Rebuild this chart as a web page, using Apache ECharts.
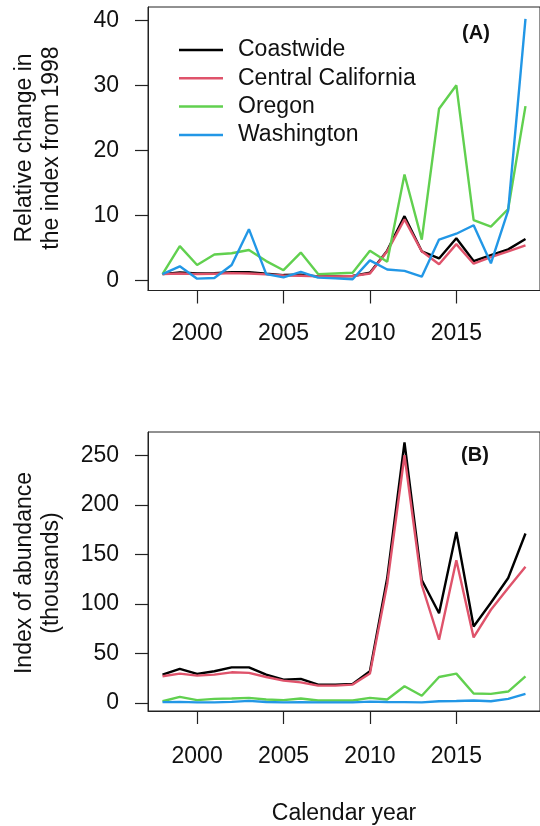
<!DOCTYPE html>
<html>
<head>
<meta charset="utf-8">
<script src="https://cdn.jsdelivr.net/npm/echarts@6/dist/echarts.min.js"></script>
<style>
  html, body { margin: 0; padding: 0; background: #fff; }
  #chart { width: 540px; height: 826px; }
</style>
</head>
<body>
<div id="chart"></div>
<script>
// Survey years
const years = [1998, 1999, 2000, 2001, 2002, 2003, 2004, 2005, 2006, 2007, 2008,
               2009, 2010, 2011, 2012, 2013, 2014, 2015, 2016, 2017, 2018, 2019];

const regionNames = ['Coastwide', 'Central California', 'Oregon', 'Washington'];
const regionColors = ['#000000', '#DF536B', '#61D04F', '#2297E6'];

// (A) Relative change in the index from 1998
const relCoastwide = [1.0, 1.25, 1.1, 1.15, 1.3, 1.3, 1.05, 0.85, 0.9, 0.65, 0.65,
                      0.7, 1.2, 4.6, 9.9, 4.5, 3.4, 6.5, 3.0, 3.9, 4.8, 6.4];
const relCentralCA = [1.0, 1.1, 1.0, 1.05, 1.15, 1.1, 0.95, 0.8, 0.75, 0.65, 0.65,
                      0.7, 1.1, 4.5, 9.4, 4.5, 2.5, 5.6, 2.6, 3.6, 4.5, 5.4];
const relOregon = [1.0, 5.3, 2.4, 4.0, 4.2, 4.7, 3.0, 1.6, 4.3, 1.0, 1.1,
                   1.2, 4.6, 2.9, 16.3, 6.3, 26.4, 30.0, 9.3, 8.3, 11.0, 26.8];
const relWashington = [1.0, 2.2, 0.3, 0.4, 2.4, 7.9, 1.0, 0.5, 1.35, 0.45, 0.35,
                       0.2, 3.1, 1.7, 1.5, 0.6, 6.3, 7.2, 8.5, 2.65, 10.8, 40.2];

// (B) Index of abundance (thousands)
const absCoastwide = [28.5, 34.2, 29.2, 31.9, 35.8, 35.8, 28.5, 23.4, 24.1, 18.4, 18.4,
                      19.1, 31.9, 126, 263, 124, 90.5, 172.6, 77, 101, 126, 171];
const absCentralCA = [26.8, 29.5, 27.5, 28.5, 30.8, 30.2, 26.1, 22.4, 20.7, 17.4, 17.4,
                      18.4, 29.5, 120, 250, 119, 63.7, 144, 66, 94, 116, 137.5];
const absOregon = [1.6, 6.0, 2.7, 4.0, 4.4, 5.0, 3.4, 2.7, 4.4, 2.3, 2.3,
                   2.3, 5.0, 3.4, 16.8, 7.2, 26.1, 29.5, 9.4, 9.0, 11.4, 26.8];
const absWashington = [0.7, 1.0, 0.5, 0.5, 1.0, 2.0, 0.8, 0.5, 0.7, 0.4, 0.4,
                       0.4, 1.2, 0.8, 0.7, 0.5, 1.6, 1.9, 2.3, 1.6, 4.0, 9.0];

// Tick labels
const yearTicks = [2000, 2005, 2010, 2015];
const relTicks = [0, 10, 20, 30, 40];
const absTicks = [0, 50, 100, 150, 200, 250];

const FONT = "'Liberation Sans', Arial, Helvetica, sans-serif";
const FS = 23;

const relSeries = [relCoastwide, relCentralCA, relOregon, relWashington];
const absSeries = [absCoastwide, absCentralCA, absOregon, absWashington];

function pairs(vals) {
  return years.map((y, i) => [y, vals[i]]);
}

const tickStyle = { color: '#222', width: 1.2 };

function xAxisFor(gridIndex, labelMargin, extra) {
  return Object.assign({
    type: 'value',
    gridIndex: gridIndex,
    position: 'bottom',
    min: 1997.16,
    max: 2019.84,
    splitLine: { show: false },
    axisLine: { show: true, onZero: false, lineStyle: { color: '#222', width: 1 } },
    axisTick: { show: true, inside: false, length: 13, customValues: yearTicks,
                lineStyle: tickStyle },
    axisLabel: { customValues: yearTicks, margin: labelMargin,
                 formatter: v => String(v),
                 fontFamily: FONT, fontSize: FS, color: '#111' }
  }, extra || {});
}

function yAxisFor(gridIndex, min, max, ticks) {
  return {
    type: 'value',
    gridIndex: gridIndex,
    position: 'left',
    min: min,
    max: max,
    splitLine: { show: false },
    axisLine: { show: true, onZero: false, lineStyle: { color: '#222', width: 1 } },
    axisTick: { show: true, inside: false, length: 13, customValues: ticks,
                lineStyle: tickStyle },
    axisLabel: { customValues: ticks, margin: 29,
                 formatter: v => String(v),
                 fontFamily: FONT, fontSize: FS, color: '#111' }
  };
}

const series = [];
regionNames.forEach((name, k) => {
  series.push({
    name: name, type: 'line', xAxisIndex: 0, yAxisIndex: 0,
    data: pairs(relSeries[k]), symbol: 'none', silent: true,
    lineStyle: { color: regionColors[k], width: 2.4 },
    itemStyle: { color: regionColors[k] }, z: 2 + k
  });
});
regionNames.forEach((name, k) => {
  series.push({
    name: name, type: 'line', xAxisIndex: 1, yAxisIndex: 1,
    data: pairs(absSeries[k]), symbol: 'none', silent: true,
    lineStyle: { color: regionColors[k], width: 2.4 },
    itemStyle: { color: regionColors[k] }, z: 2 + k
  });
});

const chart = echarts.init(document.getElementById('chart'), null, { renderer: 'canvas' });
chart.setOption({
  animation: false,
  backgroundColor: '#fff',
  grid: [
    { left: 148, right: -2, top: 7, bottom: 535.5, show: true,
      borderColor: '#222', borderWidth: 1, backgroundColor: 'transparent' },
    { left: 148, right: -2, top: 432, bottom: 114.5, show: true,
      borderColor: '#222', borderWidth: 1, backgroundColor: 'transparent' }
  ],
  xAxis: [
    xAxisFor(0, 32),
    xAxisFor(1, 34, {
      name: 'Calendar year', nameLocation: 'middle', nameGap: 91,
      nameTextStyle: { fontFamily: FONT, fontSize: FS, color: '#111' }
    })
  ],
  yAxis: [
    yAxisFor(0, -1.52, 42.03, relTicks),
    yAxisFor(1, -8.26, 273.5, absTicks)
  ],
  legend: {
    data: regionNames,
    orient: 'vertical',
    left: 174,
    top: 33.5,
    icon: 'rect',
    itemWidth: 44,
    itemHeight: 2.5,
    itemGap: 5.3,
    selectedMode: false,
    textStyle: { fontFamily: FONT, fontSize: FS, color: '#111',
                 lineHeight: 23, padding: [0, 0, 0, 10] }
  },
  graphic: [
    { type: 'text', x: 476, y: 33,
      style: { text: '(A)', fontFamily: FONT, fontSize: 20, fontWeight: 'bold',
               fill: '#111', align: 'center', verticalAlign: 'middle' } },
    { type: 'text', x: 475, y: 455,
      style: { text: '(B)', fontFamily: FONT, fontSize: 20, fontWeight: 'bold',
               fill: '#111', align: 'center', verticalAlign: 'middle' } },
    { type: 'text', x: 38.5, y: 148, rotation: Math.PI / 2,
      style: { text: 'Relative change in\nthe index from 1998', fontFamily: FONT,
               fontSize: FS, lineHeight: 27, fill: '#111',
               align: 'center', verticalAlign: 'middle' } },
    { type: 'text', x: 38.5, y: 573, rotation: Math.PI / 2,
      style: { text: 'Index of abundance\n(thousands)', fontFamily: FONT,
               fontSize: FS, lineHeight: 27, fill: '#111',
               align: 'center', verticalAlign: 'middle' } }
  ],
  series: series
});
</script>
</body>
</html>
